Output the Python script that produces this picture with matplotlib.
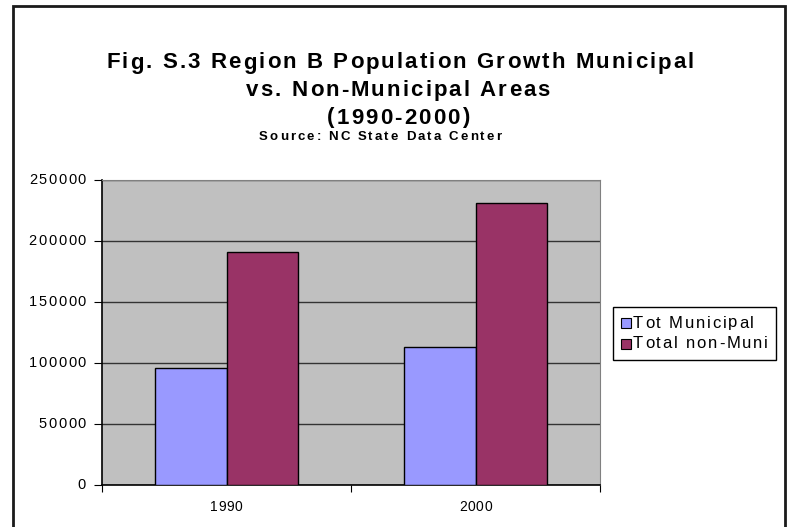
import numpy as np
import matplotlib
matplotlib.use("Agg")
import matplotlib.pyplot as plt
from matplotlib.patches import Rectangle
from matplotlib.font_manager import FontProperties
from matplotlib.transforms import ScaledTranslation, blended_transform_factory

years = ["1990", "2000"]
tot_municipal = [96000, 113500]
total_non_muni = [191000, 231000]
series_names = ["Tot Municipal", "Total non-Muni"]
series_colors = ["#9999FF", "#993366"]
yticks = [0, 50000, 100000, 150000, 200000, 250000]

FAMILY = ['Liberation Sans', 'DejaVu Sans']
plt.rcParams['font.family'] = FAMILY

fig = plt.figure(figsize=(7.88, 5.27), dpi=100)
W, H = 788, 527
renderer = fig.canvas.get_renderer()


def char_width(c, fp):
    # advance width of one character in pixels
    a = renderer.get_text_width_height_descent("||", fp, ismath=False)[0]
    b = renderer.get_text_width_height_descent("|" + c + "|", fp, ismath=False)[0]
    return b - a


def spaced_text(x, y, s, transform, size, track, ha='center', weight='normal', color='black'):
    # Excel-like text with extra letter spacing (track in pixels)
    fp = FontProperties(family=FAMILY, size=size, weight=weight)
    widths = [char_width(c, fp) for c in s]
    total = sum(widths) + track * (len(s) - 1)
    off = {'center': -total / 2, 'left': 0.0, 'right': -total}[ha]
    for c, wd in zip(s, widths):
        if c != ' ':
            tr = transform + ScaledTranslation(off / fig.dpi, 0, fig.dpi_scale_trans)
            fig.text(x, y, c, transform=tr, fontproperties=fp, ha='left',
                     va='center', color=color)
        off += wd + track


def px(x, y):
    # image pixel coords (y down) -> figure fraction
    return x / W, 1 - y / H


# outer frame of the chart
fig.patches.append(Rectangle(px(12.5, 531), (785 - 12.5) / W, (531 - 5.5) / H,
                             transform=fig.transFigure, fill=False,
                             edgecolor='#1a1a1a', linewidth=2))

ax = fig.add_axes([102 / W, 1 - 485 / H, (600 - 102) / W, (485 - 180) / H])
ax.set_facecolor('#C0C0C0')

x = np.arange(len(years))
w = 1 / 3.5
ax.bar(x - w / 2, tot_municipal, w, color=series_colors[0], edgecolor='black',
       linewidth=1, zorder=3)
ax.bar(x + w / 2, total_non_muni, w, color=series_colors[1], edgecolor='black',
       linewidth=1, zorder=3)

ax.set_xlim(-0.5, len(years) - 0.5)
ax.set_ylim(0, 250000)
ax.set_yticks(yticks)
ax.set_yticklabels([])
ax.yaxis.grid(True, color='#333333', linewidth=1, zorder=1)
ax.set_axisbelow(True)

# category ticks sit between groups
ax.set_xticks(np.arange(-0.5, len(years)))
ax.set_xticklabels([])
ax.tick_params(axis='x', length=5, color='black')
ax.tick_params(axis='y', length=6, color='black')

for side in ['top', 'right']:
    ax.spines[side].set_color('#808080')
for side in ['left', 'bottom']:
    ax.spines[side].set_color('black')
    ax.spines[side].set_linewidth(1.2)

# tick labels
ytr = blended_transform_factory(fig.transFigure, ax.transData)
for v in yticks:
    spaced_text(86 / W, v, str(v), ytr, 10.5, 1.6, ha='right')
xtr = blended_transform_factory(ax.transData, fig.transFigure)
for i, yr in enumerate(years):
    spaced_text(x[i], 1 - 507 / H, yr, xtr, 10, 0.6)

# legend drawn by hand so the text can carry the wide letter spacing
fig.patches.append(Rectangle(px(613, 360), (776 - 613) / W, (360 - 307) / H,
                             transform=fig.transFigure, facecolor='white',
                             edgecolor='black', linewidth=1))
for i, (name, col) in enumerate(zip(series_names, series_colors)):
    yc = 323 + 21 * i
    fig.patches.append(Rectangle(px(621, yc + 5), 10 / W, 10 / H,
                                 transform=fig.transFigure, facecolor=col,
                                 edgecolor='black', linewidth=0.8))
    spaced_text(*px(633, yc), name, fig.transFigure, 12, 1.8, ha='left')

# title block
spaced_text(*px(400, 63), "Fig. S.3 Region B Population Growth Municipal",
            fig.transFigure, 16, 2.1, weight='bold')
spaced_text(*px(398, 91), "vs. Non-Municipal Areas",
            fig.transFigure, 16, 2.1, weight='bold')
spaced_text(*px(398, 118), "(1990-2000)",
            fig.transFigure, 16, 2.1, weight='bold')
spaced_text(*px(380, 137), "Source: NC State Data Center",
            fig.transFigure, 9.5, 2.1, weight='bold')

fig.savefig("out.png", dpi=100)
